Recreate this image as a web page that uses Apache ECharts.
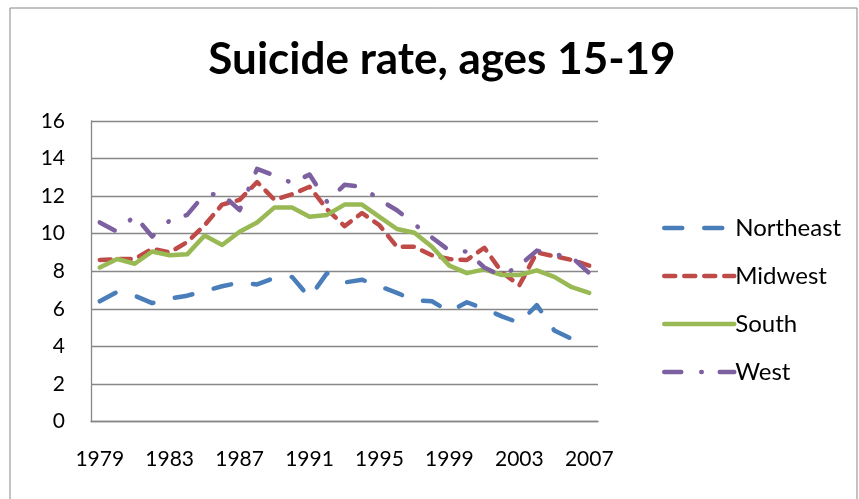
<!DOCTYPE html>
<html>
<head>
<meta charset="utf-8">
<title>Suicide rate, ages 15-19</title>
<script src="https://cdn.jsdelivr.net/npm/echarts@6/dist/echarts.min.js"></script>
<style>
  html, body { margin: 0; padding: 0; background: #fff; }
  #main { width: 859px; height: 499px; }
</style>
</head>
<body>
<div id="main"></div>
<script>
const years = ['1979', '1980', '1981', '1982', '1983', '1984', '1985', '1986', '1987', '1988',
  '1989', '1990', '1991', '1992', '1993', '1994', '1995', '1996', '1997', '1998',
  '1999', '2000', '2001', '2002', '2003', '2004', '2005', '2006', '2007'];

const northeast = [6.4, 6.9, 6.7, 6.3, 6.55, 6.7, 6.95, 7.2, 7.4, 7.3,
  7.65, 7.7, 6.6, 7.9, 7.4, 7.55, 7.2, 6.85, 6.45, 6.4,
  5.85, 6.35, 6.0, 5.6, 5.25, 6.2, 4.85, 4.4, 4.1];
const midwest = [8.6, 8.65, 8.65, 9.2, 9.0, 9.55, 10.45, 11.55, 11.8, 12.75,
  11.8, 12.1, 12.5, 11.3, 10.4, 11.1, 10.45, 9.3, 9.3, 8.85,
  8.65, 8.6, 9.25, 7.95, 7.25, 9.0, 8.8, 8.6, 8.3];
const south = [8.2, 8.65, 8.4, 9.05, 8.85, 8.9, 9.9, 9.4, 10.1, 10.6,
  11.4, 11.4, 10.9, 11.0, 11.55, 11.55, 10.9, 10.25, 10.05, 9.3,
  8.3, 7.9, 8.1, 7.8, 7.8, 8.05, 7.7, 7.15, 6.85];
const west = [10.6, 10.1, 10.95, 9.85, 10.7, 11.0, 12.1, 12.1, 11.25, 13.45,
  13.1, 12.7, 13.15, 11.7, 12.6, 12.5, 11.8, 11.25, 10.5, 9.8,
  9.1, 9.05, 8.2, 7.75, 8.3, 9.1, 8.9, 8.75, 7.9];

const font = 'Lato';
const gridColor = '#878787';

let chart = echarts.init(document.getElementById('main'));

function lineSeries(name, data, color, dash) {
  return {
    name: name,
    type: 'line',
    data: data,
    symbol: 'none',
    showSymbol: false,
    lineStyle: {
      color: color,
      width: 4.5,
      type: dash,
      cap: 'round',
      join: 'round'
    },
    itemStyle: {color: color},
    emphasis: {disabled: true}
  };
}

let option = {
  animation: false,
  backgroundColor: '#fff',
  title: {
    text: 'Suicide rate, ages 15-19',
    left: 437,
    textAlign: 'center',
    top: 33,
    textStyle: {
      fontFamily: font,
      fontWeight: 'bold',
      fontSize: 44,
      color: '#000'
    }
  },
  graphic: [{
    type: 'rect',
    shape: {x: 10, y: 8, width: 847, height: 520},
    style: {fill: 'none', stroke: '#868686', lineWidth: 1},
    silent: true
  }],
  legend: {
    orient: 'vertical',
    left: 657,
    top: 211,
    itemWidth: 70,
    itemHeight: 14,
    itemGap: 24,
    lineStyle: {width: 4.5},
    itemStyle: {opacity: 0},
    textStyle: {fontFamily: font, fontSize: 24, color: '#000', lineHeight: 24, padding: [0, 0, 0, -4]},
    data: ['Northeast', 'Midwest', 'South', 'West']
  },
  grid: {
    left: 91,
    right: 261,
    top: 121,
    bottom: 77.5
  },
  xAxis: {
    type: 'category',
    data: years,
    boundaryGap: true,
    axisLine: {show: true, lineStyle: {color: gridColor, width: 1.3}},
    axisTick: {show: false},
    axisLabel: {
      interval: 3,
      margin: 27,
      fontFamily: font,
      fontSize: 21,
      color: '#000'
    },
    splitLine: {show: false}
  },
  yAxis: {
    type: 'value',
    min: 0,
    max: 16,
    interval: 2,
    axisLine: {show: true, lineStyle: {color: gridColor, width: 1.3}},
    axisTick: {show: false},
    axisLabel: {
      margin: 26,
      fontFamily: font,
      fontSize: 21,
      color: '#000'
    },
    splitLine: {show: true, lineStyle: {color: gridColor, width: 1.3}}
  },
  series: [
    lineSeries('Northeast', northeast, '#4A7EBB', [18, 22]),
    lineSeries('Midwest', midwest, '#BE4B48', [11, 9]),
    lineSeries('South', south, '#98B954', 'solid'),
    lineSeries('West', west, '#7D60A0', [17, 20, 0.5, 18])
  ]
};

chart.setOption(option);
</script>
</body>
</html>
